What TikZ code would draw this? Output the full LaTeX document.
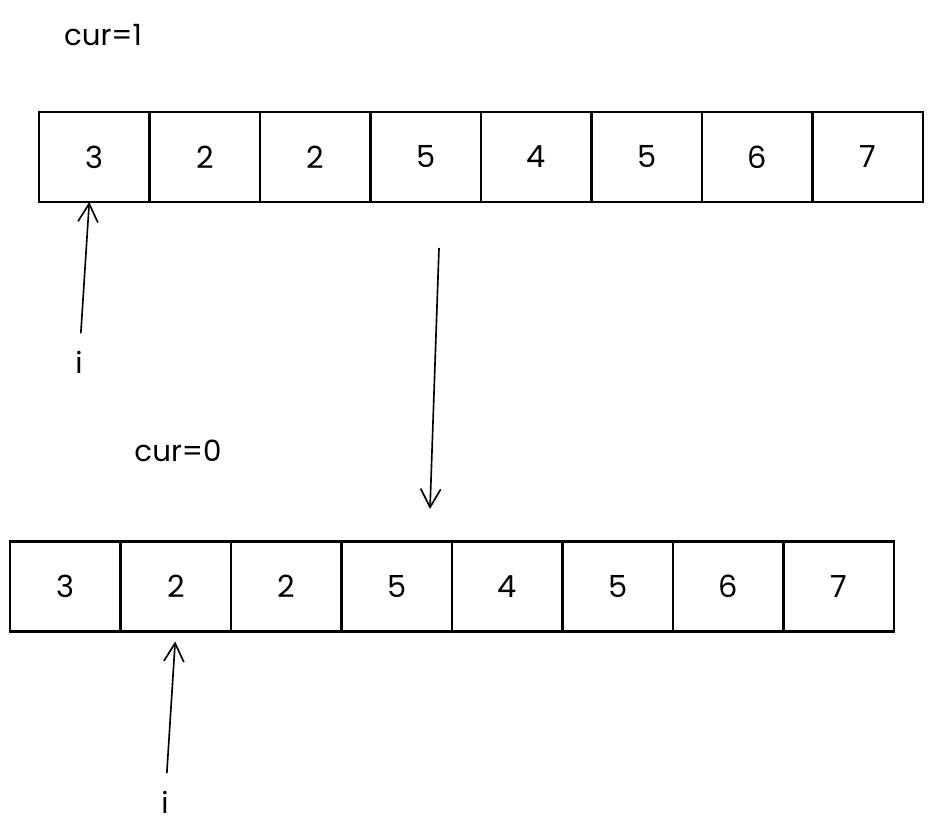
\documentclass[tikz,border=0pt]{standalone}
\usepackage{fontspec}
\setmainfont{Poppins}
\usetikzlibrary{arrows.meta,positioning}
\tikzset{
  cell/.style={rectangle, draw=black, line width=2pt, minimum width=3.315cm, minimum height=2.7cm, outer sep=0pt, inner sep=0pt, font=\fontsize{26}{30}\selectfont},
  lbl/.style={font=\fontsize{25}{28}\selectfont, inner sep=2pt},
  arr/.style={-{Straight Barb[length=5.5mm, width=6mm]}, draw=black, line width=1.4pt},
}

\begin{document}
\begin{tikzpicture}[x=0.03cm, y=-0.03cm, node distance=0pt]
\useasboundingbox (0,0) rectangle (934,839);
% before
\node[lbl] (cur1) at (103,35) {cur=1};
\node[cell] (a1) at (94.25,157) {3};
\node[cell, right=of a1] (a2) {2};
\node[cell, right=of a2] (a3) {2};
\node[cell, right=of a3] (a4) {5};
\node[cell, right=of a4] (a5) {4};
\node[cell, right=of a5] (a6) {5};
\node[cell, right=of a6] (a7) {6};
\node[cell, right=of a7] (a8) {7};
\node[lbl] (i1) at (79,362) {i};
\draw[arr, shorten <=0.45cm] (i1) -- ([xshift=-0.15cm]a1.south);
% step
\coordinate (m1) at (439,248);
\coordinate (m2) at (430,509);
\draw[arr] (m1) -- (m2);
% after
\node[lbl] (cur0) at (178,451) {cur=0};
\node[cell] (b1) at (65.3,586.5) {3};
\node[cell, right=of b1] (b2) {2};
\node[cell, right=of b2] (b3) {2};
\node[cell, right=of b3] (b4) {5};
\node[cell, right=of b4] (b5) {4};
\node[cell, right=of b5] (b6) {5};
\node[cell, right=of b6] (b7) {6};
\node[cell, right=of b7] (b8) {7};
\node[lbl] (i2) at (165,802) {i};
\draw[arr, shorten <=0.45cm, shorten >=0.3cm] (i2) -- (b2.south);
\end{tikzpicture}
\end{document}
